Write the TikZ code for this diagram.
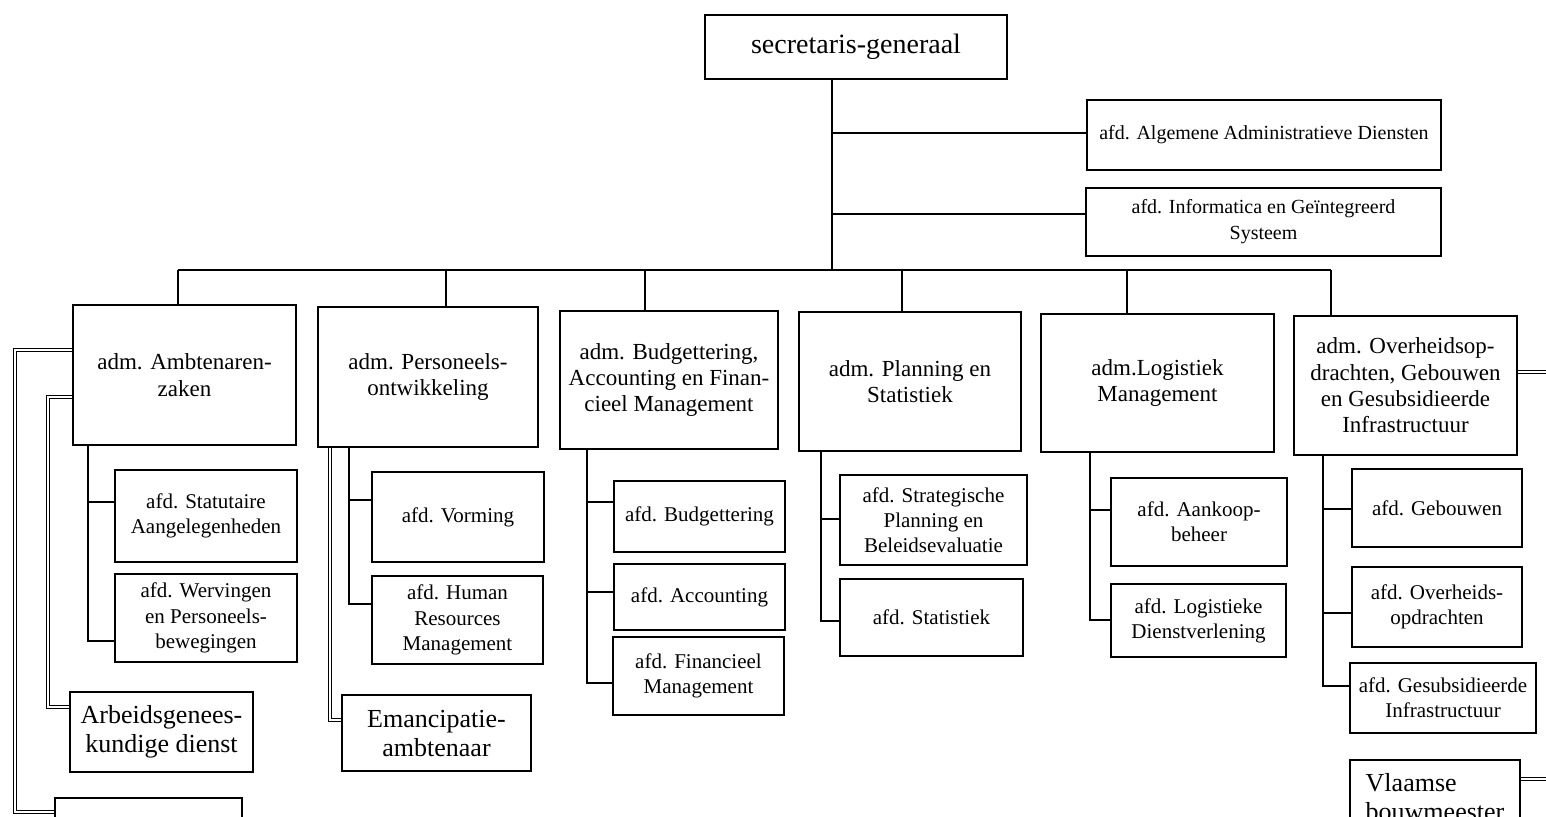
\documentclass[tikz,border=0pt]{standalone}
\usepackage{fontspec}
\setmainfont{Liberation Serif}
\tikzset{
  x=0.5pt, y=-0.5pt,
  box/.style={draw, line width=1pt, inner sep=0pt, align=center},
  fsg/.style={font=\fontsize{14}{16}\selectfont},
  fadm/.style={font=\fontsize{11.5}{13.2}\selectfont},
  ftop/.style={font=\fontsize{10}{13}\selectfont},
  fafd/.style={font=\fontsize{10.5}{12.6}\selectfont},
  fbig/.style={font=\fontsize{13}{14.5}\selectfont},
  con/.style={line width=0.9pt},
  dbl/.style={double, double distance=1pt, line width=0.55pt},
}
\newcommand\bx[7]{\node[box,#7,minimum width={(#4-#2)*0.5pt},minimum height={(#5-#3)*0.5pt}] (#1) at ({(#2+#4)/2},{(#3+#5)/2}) {#6};}
\begin{document}
\begin{tikzpicture}
\useasboundingbox (0,0) rectangle (1546,816);
\clip (0,0) rectangle (1546,816);
% top
\bx{sg}{705}{15}{1007}{79}{secretaris-generaal}{fsg}
\bx{add}{1087}{100}{1441}{170}{afd. Algemene Administratieve Diensten}{ftop}
\bx{inf}{1086}{188}{1441}{256}{afd. Informatica en Geïntegreerd\\Systeem}{ftop}
% level 2
\bx{amb}{73}{305}{296}{445}{adm. Ambtenaren-\\zaken}{fadm}
\bx{pers}{318}{307}{538}{447}{adm. Personeels-\\ontwikkeling}{fadm}
\bx{bud}{560}{311}{778}{449}{adm. Budgettering,\\Accounting en Finan-\\cieel Management}{fadm}
\bx{plan}{799}{312}{1021}{451}{adm. Planning en\\Statistiek}{fadm}
\bx{log}{1041}{314}{1274}{452}{adm.Logistiek\\Management}{fadm}
\bx{ovh}{1294}{316}{1517}{455}{adm. Overheidsop-\\drachten, Gebouwen\\en Gesubsidieerde\\Infrastructuur}{fadm}
% level 3
\bx{stat}{115}{470}{297}{562}{afd. Statutaire\\Aangelegenheden}{fafd}
\bx{werv}{115}{574}{297}{662}{afd. Wervingen\\en Personeels-\\bewegingen}{fafd}
\bx{arb}{70}{692}{253}{772}{Arbeidsgenees-\\kundige dienst}{fbig}
\bx{bot}{55}{798}{242}{860}{}{fbig}
\bx{vorm}{372}{472}{544}{562}{afd. Vorming}{fafd}
\bx{hrm}{372}{576}{543}{664}{afd. Human\\Resources\\Management}{fafd}
\bx{eman}{342}{695}{531}{771}{Emancipatie-\\ambtenaar}{fbig}
\bx{budg}{614}{481}{785}{552}{afd. Budgettering}{fafd}
\bx{acc}{614}{564}{785}{630}{afd. Accounting}{fafd}
\bx{fin}{613}{637}{784}{715}{afd. Financieel\\Management}{fafd}
\bx{strat}{840}{475}{1027}{565}{afd. Strategische\\Planning en\\Beleidsevaluatie}{fafd}
\bx{stst}{840}{579}{1023}{656}{afd. Statistiek}{fafd}
\bx{aank}{1111}{478}{1287}{566}{afd. Aankoop-\\beheer}{fafd}
\bx{ldv}{1111}{584}{1286}{657}{afd. Logistieke\\Dienstverlening}{fafd}
\bx{geb}{1352}{469}{1522}{547}{afd. Gebouwen}{fafd}
\bx{ovo}{1352}{567}{1522}{647}{afd. Overheids-\\opdrachten}{fafd}
\bx{gesi}{1350}{663}{1536}{733}{afd. Gesubsidieerde\\Infrastructuur}{fafd}
\bx{vlb}{1350}{760}{1520}{834}{Vlaamse\\bouwmeester}{fbig,align=left}
% connectors top
\coordinate (bus) at (832,270);
\draw[con] (sg.south -| bus) -- (bus);
\draw[con] (832,133) -- (add.west |- 0,133);
\draw[con] (832,214) -- (inf.west |- 0,214);
\draw[con] (178,270) -- (1331,270);
\draw[con] (178,270) -- (amb.north -| 178,0);
\draw[con] (446,270) -- (pers.north -| 446,0);
\draw[con] (645,270) -- (bud.north -| 645,0);
\draw[con] (902,270) -- (plan.north -| 902,0);
\draw[con] (1127,270) -- (log.north -| 1127,0);
\draw[con] (1331,270) -- (ovh.north -| 1331,0);
% Ambtenarenzaken
\draw[con] (amb.south -| 88,0) |- (werv.west |- 0,641);
\draw[con] (88,502) -- (stat.west |- 0,502);
\draw[dbl] (amb.west |- 0,350) -| (15,812) -- (bot.west |- 0,812);
\draw[dbl] (amb.west |- 0,397) -| (48,707) -- (arb.west |- 0,707);
% Personeels
\draw[con] (pers.south -| 349,0) |- (hrm.west |- 0,604);
\draw[con] (349,500) -- (vorm.west |- 0,500);
\draw[dbl] (pers.south -| 330,0) |- (eman.west |- 0,720);
% Budget
\draw[con] (bud.south -| 587,0) |- (fin.west |- 0,683);
\draw[con] (587,502) -- (budg.west |- 0,502);
\draw[con] (587,592) -- (acc.west |- 0,592);
% Planning
\draw[con] (plan.south -| 821,0) |- (stst.west |- 0,621);
\draw[con] (821,519) -- (strat.west |- 0,519);
% Logistiek
\draw[con] (log.south -| 1090,0) |- (ldv.west |- 0,620);
\draw[con] (1090,510) -- (aank.west |- 0,510);
% Overheid
\draw[con] (ovh.south -| 1323,0) |- (gesi.west |- 0,686);
\draw[con] (1323,509) -- (geb.west |- 0,509);
\draw[con] (1323,613) -- (ovo.west |- 0,613);
\draw[dbl] (ovh.east |- 0,372) -- (1546,372);
\draw[dbl] (vlb.east |- 0,779) -- (1546,779);
\end{tikzpicture}
\end{document}
